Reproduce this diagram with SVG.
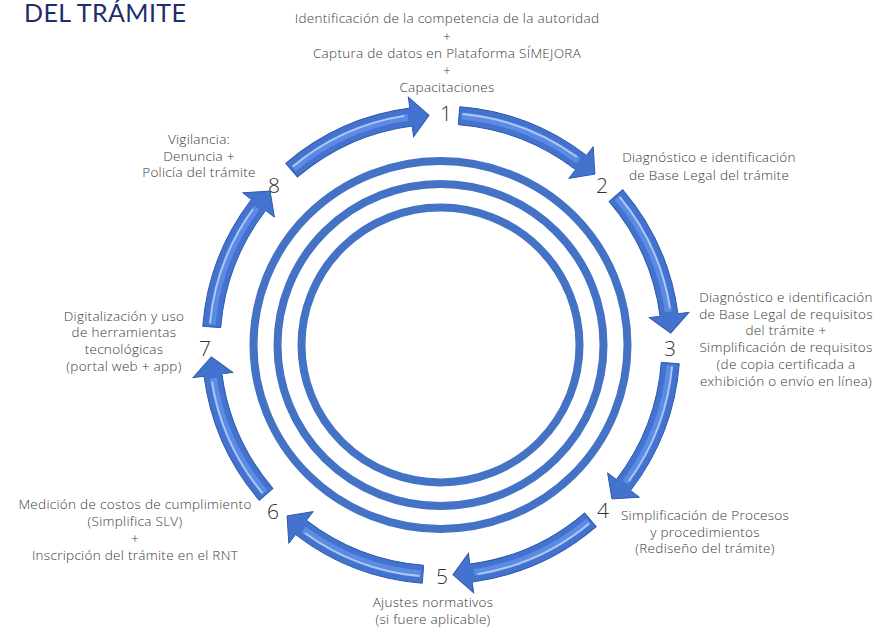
<svg xmlns="http://www.w3.org/2000/svg" xmlns:xlink="http://www.w3.org/1999/xlink" width="876" height="629" viewBox="0 0 876 629">
<style>
.lbl{font-family:"Open Sans",Lato,"Liberation Sans",sans-serif;font-size:13.5px;font-weight:300;letter-spacing:0.3px;fill:#3a3a3a;text-anchor:middle}
.num{font-family:"Open Sans",Lato,"Liberation Sans",sans-serif;font-size:21px;font-weight:300;fill:#333333;text-anchor:middle}
.title{font-family:Lato,"Open Sans","Liberation Sans",sans-serif;font-size:25px;font-weight:400;letter-spacing:0.4px;fill:#1f2d6e}
.ring{fill:none;stroke:#4472c4;stroke-width:8}
.band{fill:#4373cf;stroke:#2d59ad;stroke-width:1}
.mid{fill:none;stroke:#5b8be2;stroke-width:7}
.hl{fill:none;stroke:#b9d0f7;stroke-width:1.8;opacity:0.9}
</style>
<defs>
<g id="arr">
<path class="band" d="M 18.75,-238.26 A 239 239 0 0 1 145.49,-189.61 L 152.19,-198.34 L 153.90,-170.92 L 127.84,-166.60 L 134.54,-175.33 A 221 221 0 0 0 17.34,-220.32 Z"/>
<path class="mid" d="M 20.5,-229.0 A 230 230 0 0 1 137.5,-184.4"/>
<path class="hl" d="M 21.5,-231.0 A 232 232 0 0 1 136.0,-187.9"/>
</g>
</defs>
<rect width="876" height="629" fill="#ffffff"/>
<text class="title" x="24" y="22">DEL TRÁMITE</text>
<g id="rings">
<ellipse class="ring" cx="440.5" cy="345" rx="187" ry="184"/>
<ellipse class="ring" cx="440.5" cy="345" rx="163" ry="161"/>
<ellipse class="ring" cx="440.5" cy="345" rx="139" ry="137.5"/>
</g>
<g id="connectors">
<use xlink:href="#arr" transform="translate(441,345) rotate(0)"/>
<use xlink:href="#arr" transform="translate(441,345) rotate(45)"/>
<use xlink:href="#arr" transform="translate(441,345) rotate(90)"/>
<use xlink:href="#arr" transform="translate(441,345) rotate(135)"/>
<use xlink:href="#arr" transform="translate(441,345) rotate(180)"/>
<use xlink:href="#arr" transform="translate(441,345) rotate(225)"/>
<use xlink:href="#arr" transform="translate(441,345) rotate(270)"/>
<use xlink:href="#arr" transform="translate(441,345) rotate(315)"/>
</g>
<g id="step1">
<text class="num" x="446" y="121">1</text>
<text class="lbl" x="447" y="23">Identificación de la competencia de la autoridad</text>
<text class="lbl" x="447" y="41">+</text>
<text class="lbl" x="447" y="58">Captura de datos en Plataforma SÍMEJORA</text>
<text class="lbl" x="447" y="75">+</text>
<text class="lbl" x="447" y="92">Capacitaciones</text>
</g>
<g id="step2">
<text class="num" x="602" y="193">2</text>
<text class="lbl" x="709" y="162">Diagnóstico e identificación</text>
<text class="lbl" x="709" y="180">de Base Legal del trámite</text>
</g>
<g id="step3">
<text class="num" x="670" y="356">3</text>
<text class="lbl" x="786" y="302">Diagnóstico e identificación</text>
<text class="lbl" x="786" y="319">de Base Legal de requisitos</text>
<text class="lbl" x="786" y="335">del trámite +</text>
<text class="lbl" x="786" y="352">Simplificación de requisitos</text>
<text class="lbl" x="786" y="369">(de copia certificada a</text>
<text class="lbl" x="786" y="386">exhibición o envío en línea)</text>
</g>
<g id="step4">
<text class="num" x="603" y="518">4</text>
<text class="lbl" x="705" y="520">Simplificación de Procesos</text>
<text class="lbl" x="705" y="537">y procedimientos</text>
<text class="lbl" x="705" y="553">(Rediseño del trámite)</text>
</g>
<g id="step5">
<text class="num" x="442" y="584">5</text>
<text class="lbl" x="433" y="607">Ajustes normativos</text>
<text class="lbl" x="433" y="624">(si fuere aplicable)</text>
</g>
<g id="step6">
<text class="num" x="273" y="519">6</text>
<text class="lbl" x="135" y="509">Medición de costos de cumplimiento</text>
<text class="lbl" x="135" y="526">(Simplifica SLV)</text>
<text class="lbl" x="135" y="543">+</text>
<text class="lbl" x="135" y="560">Inscripción del trámite en el RNT</text>
</g>
<g id="step7">
<text class="num" x="205" y="356">7</text>
<text class="lbl" x="124" y="321">Digitalización y uso</text>
<text class="lbl" x="124" y="337">de herramientas</text>
<text class="lbl" x="124" y="354">tecnológicas</text>
<text class="lbl" x="124" y="371">(portal web + app)</text>
</g>
<g id="step8">
<text class="num" x="274" y="193">8</text>
<text class="lbl" x="199" y="144">Vigilancia:</text>
<text class="lbl" x="199" y="161">Denuncia +</text>
<text class="lbl" x="199" y="177">Policía del trámite</text>
</g>
</svg>
